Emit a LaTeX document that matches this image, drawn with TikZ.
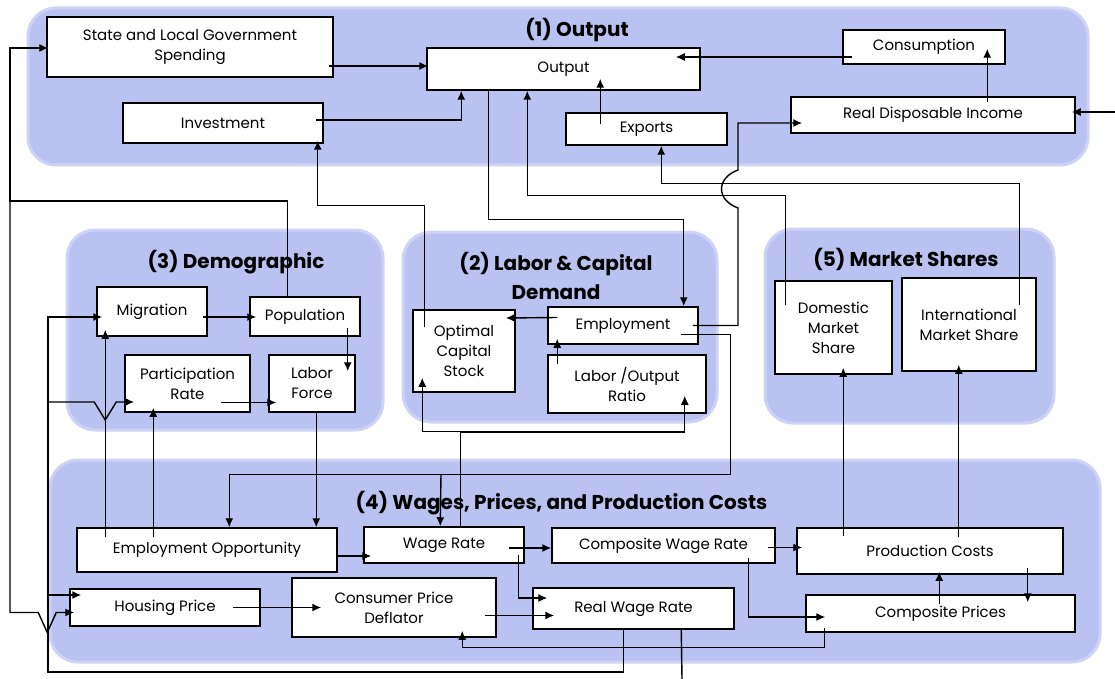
\documentclass[tikz,border=0pt]{standalone}
\usepackage{fontspec}
\setmainfont{Poppins}
\usetikzlibrary{calc,arrows.meta}
\definecolor{blob}{RGB}{186,194,242}
\definecolor{blobedge}{RGB}{205,210,246}
\tikzset{
 blobst/.style={fill=blob, rounded corners=28pt, draw=blobedge, line width=3pt},
 box/.style={draw=black, fill=white, line width=1.5pt, inner sep=2pt, align=center, font=\fontsize{15}{20}\selectfont},
 title/.style={font=\fontsize{20}{29}\selectfont\bfseries, align=center},
 arr/.style={line width=1.4pt, -{Latex[length=9pt,width=8pt]}},
 ln/.style={line width=1.4pt},
}
\begin{document}
\begin{tikzpicture}[x=1pt,y=-1pt]
\useasboundingbox (0,0) rectangle (1115,679);
% regions
\filldraw[blobst] (28,8) rectangle (1088,165);
\filldraw[blobst] (67,230) rectangle (383,430);
\filldraw[blobst] (403,232) rectangle (717,422);
\filldraw[blobst] (765,229) rectangle (1054,423);
\filldraw[blobst] (50,460) rectangle (1100,662);
% titles
\node[title] (t1) at (577,30) {(1) Output};
\node[title] (t3) at (236,262) {(3) Demographic};
\node[title] (t2) at (556,276) {(2) Labor \& Capital\\Demand};
\node[title] (t5) at (906,259) {(5) Market Shares};
\node[title] (t4) at (561.5,503) {(4) Wages, Prices, and Production Costs};
% nodes
\node[box,minimum width=286pt,minimum height=60pt] (slg) at (190,47) {State and Local Government\\Spending};
\node[box,minimum width=273pt,minimum height=42pt] (out) at (563.5,69) {Output};
\node[box,minimum width=162pt,minimum height=34pt] (cons) at (924,47) {Consumption};
\node[box,minimum width=200pt,minimum height=40pt] (inv) at (223,123) {Investment};
\node[box,minimum width=161pt,minimum height=32pt] (exp) at (646.5,129) {Exports};
\node[box,minimum width=284pt,minimum height=36pt] (rdi) at (933,115) {Real Disposable Income};
\node[box,minimum width=110pt,minimum height=49pt] (mig) at (152,311.5) {Migration};
\node[box,minimum width=110pt,minimum height=39pt] (pop) at (305,316.5) {Population};
\node[box,minimum width=125pt,minimum height=57pt] (part) at (187.5,383.5) {Participation\\Rate};
\node[box,minimum width=86pt,minimum height=57pt] (lab) at (312,383.5) {Labor\\Force};
\node[box,minimum width=102pt,minimum height=82pt] (ocs) at (464,351) {Optimal\\Capital\\Stock};
\node[box,minimum width=150pt,minimum height=37pt] (emp) at (623,325.5) {Employment};
\node[box,minimum width=158pt,minimum height=58pt] (lor) at (627,384) {Labor /Output\\Ratio};
\node[box,minimum width=117pt,minimum height=93pt] (dms) at (833.5,327.5) {Domestic\\Market\\Share};
\node[box,minimum width=134pt,minimum height=93pt] (ims) at (969,324.5) {International\\Market Share};
\node[box,minimum width=260pt,minimum height=44pt] (eo) at (207,550) {Employment Opportunity};
\node[box,minimum width=160pt,minimum height=36pt] (wr) at (444,545) {Wage Rate};
\node[box,minimum width=223pt,minimum height=35pt] (cwr) at (663.5,545.5) {Composite Wage Rate};
\node[box,minimum width=266pt,minimum height=46pt] (pc) at (930,551) {Production Costs};
\node[box,minimum width=190pt,minimum height=37pt] (hp) at (165,607.5) {Housing Price};
\node[box,minimum width=204pt,minimum height=59pt] (cpd) at (394,607.5) {Consumer Price\\Deflator};
\node[box,minimum width=201pt,minimum height=41pt] (rwr) at (633.5,608.5) {Real Wage Rate};
\node[box,minimum width=269pt,minimum height=37pt] (cp) at (940.5,613.5) {Composite Prices};
% junction coordinates
\coordinate (lftA) at (10,201);
\coordinate (lftB) at (48,672);
\coordinate (jPart) at (48,402);
\coordinate (jHP) at (48,595);
\coordinate (jWR) at (441,474);
\coordinate (jLOR) at (461,432);
\coordinate (hopA) at (738,208);
\coordinate (hopB) at (738,170);
\coordinate (rin) at (1115,112);
\coordinate (rout) at (682,679);
% connectors (1)
\draw[arr] ($(slg.east)+(-5,19)$) -- ($(out.west)+(2,-3)$);
\draw[arr] ($(inv.east)+(-8,-3)$) -| ($(out.south west)+(35,0)$);
\draw[arr] ($(cons.west)+(10,10)$) -- ($(out.east)+(-25,-12)$);
\draw[arr] ($(rdi.north west)+(197,6)$) -- ($(cons.south west)+(145,-16)$);
\draw[arr] ($(exp.north west)+(35,12)$) -- ($(out.south west)+(174,-12)$);
\draw[arr] (rin) -- ($(rdi.east)+(-4,-3)$);
% long connectors
\draw[arr] ($(out.south west)+(62,0)$) -- ++(0,129) -| ($(emp.north east)+(-15,0)$);
\draw[arr] ($(dms.north west)+(11,25)$) -- ++(0,-110) -| ($(out.south west)+(101,0)$);
\draw[arr] ($(ims.north east)+(-17,28)$) -- ++(0,-122) -| ($(exp.south west)+(96,0)$);
\draw[arr] ($(emp.east)+(-6,0)$) -| (hopA) .. controls ($(hopA)+(-22,-8)$) and ($(hopB)+(-22,8)$) .. (hopB) |- ($(rdi.west)+(12,8)$);
\draw[arr] ($(ocs.north west)+(12,18)$) -- ++(0,-122) -| ($(inv.south east)+(-6,-3)$);
\draw[arr] ($(pop.north west)+(38,0)$) |- (lftA) |- ($(slg.west)+(2,1)$);
\draw[arr] (lftA) |- ($(hp.west)+(-31,5)$) -- ++(9,20) -- ++(9,-20) -- ($(hp.west)+(5,5)$);
\draw[arr] ($(rwr.south west)+(91,0)$) |- (lftB) |- ($(mig.west)+(6,5.5)$);
\draw[arr] (jPart) -- ($(part.west)+(-30,18.5)$) -- ++(11,18) -- ++(11,-18) -- ($(part.west)+(10,18.5)$);
\draw[arr] (jHP) -- ($(hp.west)+(12,-12.5)$);
% (3)
\draw[arr] ($(mig.east)+(-5,5.5)$) -- ($(pop.west)+(7,0.5)$);
\draw[arr] ($(pop.south east)+(-13,-9)$) -- ($(lab.north east)+(-8,17)$);
\draw[arr] ($(part.east)+(-30,19)$) -- ($(lab.west)+(8,19)$);
\draw[arr] ($(lab.south west)+(48,0)$) -- ($(eo.north west)+(240,0)$);
\draw[arr] ($(eo.north west)+(29,10)$) -- ($(mig.south west)+(9,-7)$);
\draw[arr] ($(eo.north west)+(77,10)$) -- ($(part.south west)+(29,-5)$);
% (2)
\draw[arr] ($(emp.south east)+(-18,-10)$) -- ++(50,0) -- ++(0,140) -| ($(eo.north west)+(153,0)$);
\draw[arr] (jWR) -- ($(wr.north west)+(77,0)$);
\draw[arr] ($(wr.north west)+(97,1)$) -- ++(0,-96) -| ($(ocs.south west)+(10,-15)$);
\draw[arr] (jLOR) -| ($(lor.south east)+(-22,-18)$);
\draw[arr] ($(emp.west)+(10,-8)$) -- ($(ocs.east)+(-10,-33)$);
\draw[arr] ($(lor.north west)+(10,10)$) -- ($(emp.south west)+(10,-6)$);
% (5)
\draw[arr] ($(pc.north west)+(47,9)$) -- ($(dms.south west)+(69,-7)$);
\draw[arr] ($(pc.north west)+(162.5,10)$) -- ($(ims.south west)+(57.5,-7)$);
% (4)
\draw[arr] ($(eo.east)+(-1,6)$) -- ($(wr.west)+(8,11)$);
\draw[arr] ($(wr.east)+(-16,3)$) -- ($(cwr.west)+(0,2.5)$);
\draw[arr] ($(wr.east)+(-6,10)$) |- ($(rwr.west)+(15,-10.5)$);
\draw[arr] ($(cpd.east)+(-12,8)$) -- ($(rwr.west)+(22,7)$);
\draw[arr] ($(hp.east)+(-28,0)$) -- ($(cpd.west)+(30,0)$);
\draw[arr] ($(cwr.east)+(-8,2)$) -- ($(pc.west)+(6,-3.5)$);
\draw[arr] ($(cwr.south east)+(-27,-6)$) |- ($(cp.west)+(20,3.5)$);
\draw[arr] ($(pc.south east)+(-36,-7)$) -- ($(cp.north east)+(-48,8)$);
\draw[arr] ($(cp.north west)+(134,10)$) -- ($(pc.south west)+(143,-3)$);
\draw[arr] ($(cp.south west)+(19,-5)$) -- ++(0,20) -| ($(cpd.south west)+(171,-7)$);
\draw[ln] ($(rwr.south west)+(149,0)$) -- (rout);
\end{tikzpicture}
\end{document}
